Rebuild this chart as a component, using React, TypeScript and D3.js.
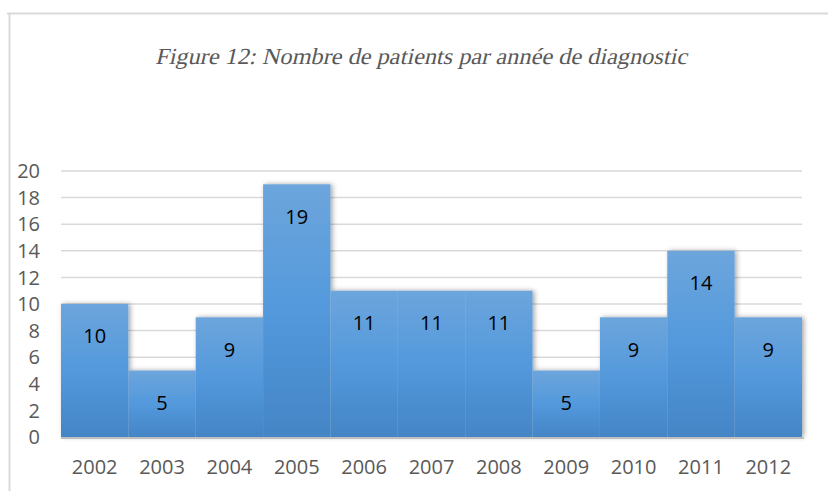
import React, { useEffect, useRef } from "react";
import * as d3 from "d3";

const years = ["2002", "2003", "2004", "2005", "2006", "2007", "2008", "2009", "2010", "2011", "2012"];
const patients = [10, 5, 9, 19, 11, 11, 11, 5, 9, 14, 9];
const yTicks = [0, 2, 4, 6, 8, 10, 12, 14, 16, 18, 20];
const title = "Figure 12: Nombre de patients par année de diagnostic";

export default function App() {
  const ref = useRef<SVGSVGElement>(null);

  useEffect(() => {
    const svg = d3.select(ref.current);
    svg.selectAll("*").remove();

    const width = 828;
    const height = 491;
    const left = 61, right = 802, top = 171, bottom = 437;
    const font = "'Open Sans', 'Noto Sans', sans-serif";

    const defs = svg.append("defs");
    const grad = defs.append("linearGradient").attr("id", "barGrad")
      .attr("x1", 0).attr("y1", 0).attr("x2", 0).attr("y2", 1);
    grad.append("stop").attr("offset", "0%").attr("stop-color", "#6da5dc");
    grad.append("stop").attr("offset", "50%").attr("stop-color", "#5399dc");
    grad.append("stop").attr("offset", "100%").attr("stop-color", "#4485c6");
    const shadow = defs.append("filter").attr("id", "shadow")
      .attr("x", "-20%").attr("y", "-20%").attr("width", "140%").attr("height", "140%");
    shadow.append("feDropShadow").attr("dx", 2).attr("dy", 0).attr("stdDeviation", 2.5)
      .attr("flood-color", "#000").attr("flood-opacity", 0.35);

    // frame
    svg.append("path").attr("d", `M7,13.5H${width}M9.5,13V${height}`)
      .attr("stroke", "#d9d9d9").attr("stroke-width", 2).attr("fill", "none");

    // title: upright Liberation Serif slanted by hand
    svg.append("text")
      .attr("transform", "translate(421,64) skewX(-13)")
      .attr("text-anchor", "middle")
      .attr("font-family", "'Liberation Serif', 'Times New Roman', serif")
      .attr("font-size", 23)
      .attr("fill", "#595959")
      .attr("textLength", 532)
      .attr("lengthAdjust", "spacingAndGlyphs")
      .text(title);

    const x = d3.scaleBand().domain(years).range([left, right]).padding(0);
    const y = d3.scaleLinear().domain([0, 20]).range([bottom, top]);

    const g = svg.append("g");
    g.selectAll("line.grid").data(yTicks.slice(1)).join("line")
      .attr("class", "grid")
      .attr("x1", left).attr("x2", right)
      .attr("y1", (d) => y(d)).attr("y2", (d) => y(d))
      .attr("stroke", "#d9d9d9").attr("stroke-width", 1.5);

    g.selectAll("text.ytick").data(yTicks).join("text")
      .attr("class", "ytick")
      .attr("x", 40).attr("y", (d) => y(d))
      .attr("dy", "0.36em")
      .attr("text-anchor", "end")
      .attr("font-family", font).attr("font-size", 20)
      .attr("fill", "#595959")
      .text((d) => d);

    const bars = svg.append("g").attr("filter", "url(#shadow)");
    bars.selectAll("rect").data(patients).join("rect")
      .attr("x", (d, i) => x(years[i]) as number)
      .attr("y", (d) => y(d))
      .attr("width", x.bandwidth())
      .attr("height", (d) => bottom - y(d))
      .attr("fill", "url(#barGrad)");

    svg.append("line")
      .attr("x1", left).attr("x2", right + 2)
      .attr("y1", bottom + 1).attr("y2", bottom + 1)
      .attr("stroke", "#bfbfbf").attr("stroke-width", 2);

    svg.append("g").selectAll("text").data(patients).join("text")
      .attr("x", (d, i) => (x(years[i]) as number) + x.bandwidth() / 2)
      .attr("y", (d) => y(d) + 32)
      .attr("dy", "0.36em")
      .attr("text-anchor", "middle")
      .attr("font-family", font).attr("font-size", 20)
      .attr("fill", "#000")
      .text((d) => d);

    svg.append("g").selectAll("text").data(years).join("text")
      .attr("x", (d) => (x(d) as number) + x.bandwidth() / 2)
      .attr("y", 467)
      .attr("dy", "0.36em")
      .attr("text-anchor", "middle")
      .attr("font-family", font).attr("font-size", 20)
      .attr("fill", "#595959")
      .text((d) => d);
  }, []);

  return (
    <div style={{ position: "absolute", left: 0, top: 0 }}>
      <svg ref={ref} width={828} height={491} style={{ display: "block", background: "#fff" }} />
    </div>
  );
}
